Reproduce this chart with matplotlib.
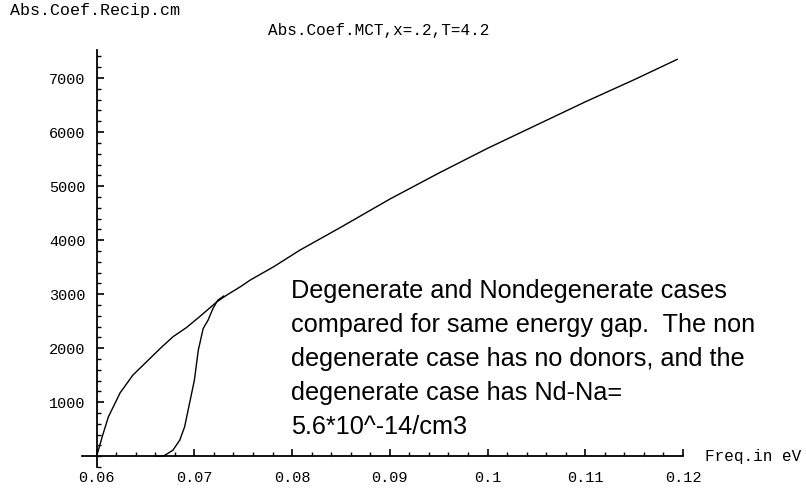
import matplotlib
matplotlib.use("Agg")
import matplotlib.pyplot as plt
from matplotlib.ticker import MultipleLocator, FixedLocator

# Nondegenerate / degenerate absorption curves
upper_x = [0.0600, 0.0606, 0.0612, 0.0624, 0.0637, 0.0651, 0.0665, 0.0678, 0.0692,
           0.0706, 0.0723, 0.0733, 0.0747, 0.0757, 0.0781, 0.0808, 0.0850, 0.0900,
           0.0950, 0.1000, 0.1050, 0.1100, 0.1150, 0.1194]
upper_y = [0, 380, 728, 1173, 1500, 1747, 1994, 2210, 2383,
           2593, 2858, 2981, 3136, 3259, 3506, 3815, 4240, 4760,
           5240, 5700, 6130, 6560, 6970, 7346]

lower_x = [0.0660, 0.0667, 0.0670, 0.0678, 0.0685, 0.0690, 0.0695, 0.0700, 0.0704,
           0.0709, 0.0714, 0.0719, 0.0724, 0.0730]
lower_y = [0, 0, 19, 111, 296, 543, 975, 1407, 1963,
           2364, 2518, 2735, 2889, 2965]

x_ticks = [0.06, 0.07, 0.08, 0.09, 0.10, 0.11, 0.12]
x_ticklabels = ["0.06", "0.07", "0.08", "0.09", "0.1", "0.11", "0.12"]
y_ticks = [1000, 2000, 3000, 4000, 5000, 6000, 7000]
y_ticklabels = ["1000", "2000", "3000", "4000", "5000", "6000", "7000"]

ylabel = "Abs.Coef.Recip.cm"
xlabel = "Freq.in eV"
title = "Abs.Coef.MCT,x=.2,T=4.2"
note_lines = ["Degenerate and Nondegenerate cases",
              "compared for same energy gap.  The non",
              "degenerate case has no donors, and the",
              "degenerate case has Nd-Na=",
              "5.6*10^-14/cm3"]

W, H = 806, 492
fig = plt.figure(figsize=(W / 100, H / 100), dpi=100)
fig.patch.set_facecolor("white")

left_px, right_px = 82, 683
top_px, bot_px = 50, 467
ax = fig.add_axes([left_px / W, 1 - bot_px / H, (right_px - left_px) / W, (bot_px - top_px) / H])
ax.set_xlim(0.0585, 0.12)
ax.set_ylim(-200, 7520)

mono = "Liberation Mono"

ax.plot(upper_x, upper_y, color="black", lw=1.0)
ax.plot(lower_x, lower_y, color="black", lw=1.0)

for s in ["top", "right"]:
    ax.spines[s].set_visible(False)
ax.spines["left"].set_position(("data", 0.06))
ax.spines["bottom"].set_position(("data", 0))
ax.spines["left"].set_linewidth(1.3)
ax.spines["bottom"].set_linewidth(1.3)

ax.xaxis.set_major_locator(FixedLocator(x_ticks))
ax.xaxis.set_minor_locator(MultipleLocator(0.002))
ax.set_xticklabels(x_ticklabels)
ax.yaxis.set_major_locator(FixedLocator(y_ticks))
ax.yaxis.set_minor_locator(MultipleLocator(200))
ax.set_yticklabels(y_ticklabels)

ax.tick_params(axis="both", which="major", direction="in", length=5, width=1.2,
               labelsize=11, pad=8)
ax.tick_params(axis="both", which="minor", direction="in", length=3, width=1.0)
ax.tick_params(axis="x", which="major", pad=11)
for lab in ax.get_xticklabels() + ax.get_yticklabels():
    lab.set_fontfamily(mono)

fig.text(10 / W, 1 - 11 / H, ylabel, family=mono, fontsize=12, va="center", ha="left")
fig.text(268 / W, 1 - 31 / H, title, family=mono, fontsize=11.5, va="center", ha="left")
fig.text(705 / W, 1 - 456 / H, xlabel, family=mono, fontsize=11.5, va="center", ha="left")

first_baseline, step = 298, 34
for i, line in enumerate(note_lines):
    fig.text(291 / W, 1 - (first_baseline + i * step) / H, line,
             family="Liberation Sans", fontsize=18.2, va="baseline", ha="left")

fig.savefig("out.png", dpi=100, facecolor="white")
